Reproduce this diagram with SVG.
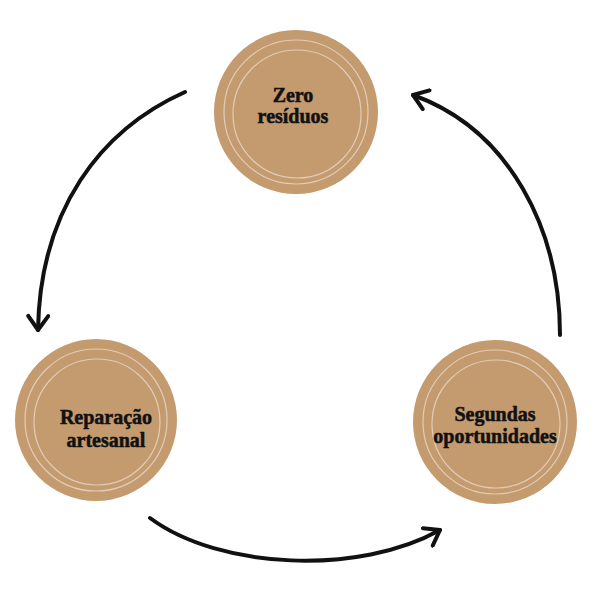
<svg xmlns="http://www.w3.org/2000/svg" width="600" height="600" viewBox="0 0 600 600">
<style>
.c{fill:#C49A6F}
.r{fill:none;stroke:#fff;stroke-width:1.2;opacity:.5}
.t{font-family:"Liberation Serif",serif;font-weight:bold;font-size:20px;fill:#111;stroke:#111;stroke-width:0.5;text-anchor:middle}
.a{fill:none;stroke:#111;stroke-width:4;stroke-linecap:round}
</style>
<defs><marker id="m" viewBox="0 0 24 24" refX="18" refY="12" markerWidth="24" markerHeight="24" orient="auto" markerUnits="userSpaceOnUse"><path d="M4,2 L18,12 L4,22" fill="none" stroke="#111" stroke-width="4" stroke-linecap="round" stroke-linejoin="round"/></marker></defs>
<rect width="600" height="600" fill="#fff"/>
<g id="zero"><circle class="c" cx="296" cy="112" r="82"/><circle class="r" cx="296" cy="112" r="72"/><circle class="r" cx="297" cy="114" r="64"/>
<text class="t" x="293" y="102">Zero</text><text class="t" x="293" y="123">resíduos</text></g>
<g id="reparacao"><circle class="c" cx="96" cy="420" r="81"/><circle class="r" cx="96" cy="420" r="71"/><circle class="r" cx="97" cy="422" r="63"/>
<text class="t" x="106" y="424">Reparação</text><text class="t" x="106" y="447">artesanal</text></g>
<g id="segundas"><circle class="c" cx="495" cy="422" r="82"/><circle class="r" cx="495" cy="422" r="72"/><circle class="r" cx="496" cy="424" r="64"/>
<text class="t" x="495" y="421">Segundas</text><text class="t" x="495" y="443">oportunidades</text></g>
<g id="connectors">
<path class="a" d="M185,92 C100,130 40,210 38,330" marker-end="url(#m)"/>
<path class="a" d="M150,518 C220,570 360,575 440,530" marker-end="url(#m)"/>
<path class="a" d="M560,335 C560,230 510,130 413,95" marker-end="url(#m)"/>
</g>
</svg>
